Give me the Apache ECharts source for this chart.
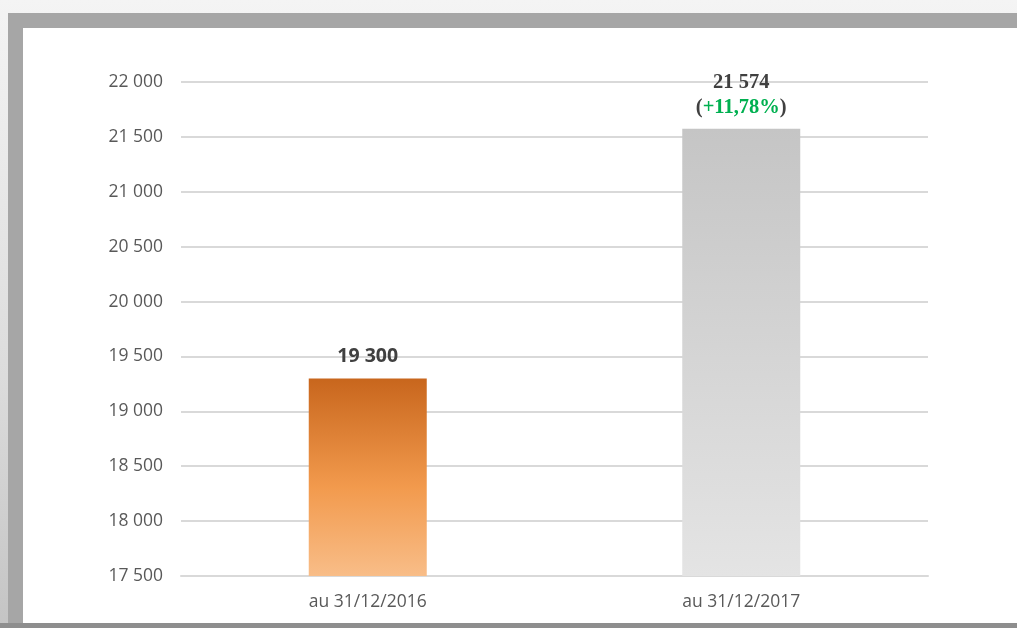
<!DOCTYPE html>
<html>
<head>
<meta charset="utf-8">
<script src="https://cdn.jsdelivr.net/npm/echarts@6/dist/echarts.min.js"></script>
<style>
  html, body { margin: 0; padding: 0; width: 1017px; height: 628px; overflow: hidden; }
  body { background: linear-gradient(180deg, #f4f4f4 0%, #dcdcdc 60%, #c4c4c4 100%); position: relative; }
  #frame { position: absolute; left: 8px; top: 13px; right: 0; bottom: 0; background: #a6a6a6; }
  #bottom { position: absolute; left: 0; right: 0; bottom: 0; height: 5px; background: #8e8e8e; }
  #panel { position: absolute; left: 23px; top: 28px; right: 0; bottom: 5px; background: #ffffff; }
  #main { position: absolute; left: 0; top: 0; width: 1017px; height: 628px; }
</style>
</head>
<body>
<div id="frame"></div>
<div id="bottom"></div>
<div id="panel"></div>
<div id="main"></div>
<script>
// categories and values
const categories = ['au 31/12/2016', 'au 31/12/2017'];
const values = [19300, 21574];
const growth = '+11,78%';

const chart = echarts.init(document.getElementById('main'), null, { renderer: 'canvas' });

function fmt(v) {
  return String(v).replace(/\B(?=(\d{3})+(?!\d))/g, ' ');
}

const barColors = [
  new echarts.graphic.LinearGradient(0, 0, 0, 1, [
    { offset: 0, color: '#c8661d' },
    { offset: 0.55, color: '#f29a4d' },
    { offset: 1, color: '#f8bd88' }
  ]),
  new echarts.graphic.LinearGradient(0, 0, 0, 1, [
    { offset: 0, color: '#c5c5c5' },
    { offset: 1, color: '#e4e4e4' }
  ])
];

const option = {
  backgroundColor: 'transparent',
  animation: false,
  grid: {
    left: 181,
    right: 89,
    top: 82,
    bottom: 52,
    containLabel: false
  },
  xAxis: {
    type: 'category',
    data: categories,
    axisTick: { show: false },
    axisLine: { lineStyle: { color: '#d9d9d9', width: 2 } },
    axisLabel: {
      color: '#595959',
      fontFamily: 'Open Sans',
      fontSize: 17.5,
      margin: 17
    }
  },
  yAxis: {
    type: 'value',
    min: 17500,
    max: 22000,
    interval: 500,
    axisLine: { show: false },
    axisTick: { show: false },
    splitLine: { lineStyle: { color: '#d9d9d9', width: 2 } },
    axisLabel: {
      color: '#595959',
      fontFamily: 'Open Sans',
      fontSize: 17.5,
      margin: 18,
      formatter: fmt
    }
  },
  series: [
    {
      type: 'bar',
      barWidth: 118,
      data: [
        {
          value: values[0],
          itemStyle: { color: barColors[0] },
          label: {
            show: true,
            position: 'top',
            distance: 12,
            formatter: fmt(values[0]),
            color: '#404040',
            fontFamily: 'Open Sans',
            fontWeight: 'bold',
            fontSize: 19.5
          }
        },
        {
          value: values[1],
          itemStyle: { color: barColors[1] },
          label: {
            show: true,
            position: 'top',
            distance: 9,
            formatter: '{a|' + fmt(values[1]) + '}\n{a|(}{g|' + growth + '}{a|)}',
            rich: {
              a: {
                color: '#404040',
                fontFamily: 'Liberation Serif',
                fontWeight: 'bold',
                fontSize: 20.5,
                lineHeight: 25
              },
              g: {
                color: '#00b050',
                fontFamily: 'Liberation Serif',
                fontWeight: 'bold',
                fontSize: 20.5,
                lineHeight: 25
              }
            }
          }
        }
      ]
    }
  ]
};

chart.setOption(option);
</script>
</body>
</html>
